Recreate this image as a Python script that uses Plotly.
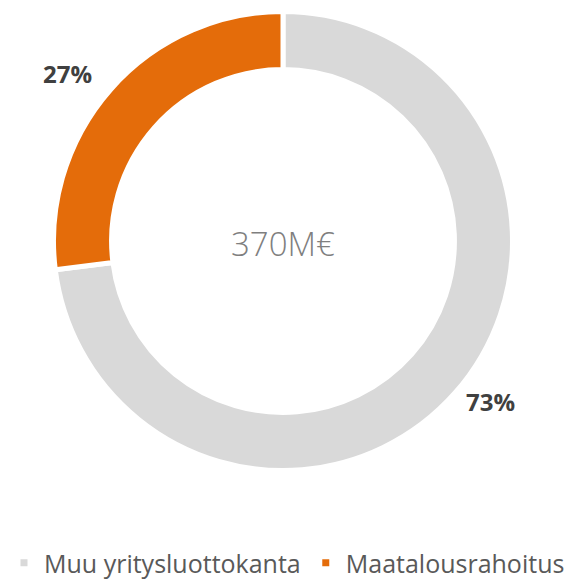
import plotly.graph_objects as go

# data
labels = ['Muu yritysluottokanta', 'Maatalousrahoitus']
shares = [73, 27]
colors = ['#D9D9D9', '#E46C0A']
total_label = '370M€'

# the page body adds an 8px margin, so work in shifted pixel coordinates
OFF = 8
W, H = 572 - OFF, 581 - OFF
cx, cy = 283 - OFF, 241 - OFF
R = 229.5          # outer radius incl. half of the white slice border
HOLE = 0.747


def px(x):
    return (x - OFF) / W


def py(y):
    return 1 - (y - OFF) / H


fig = go.Figure()
fig.add_trace(go.Pie(
    labels=labels,
    values=shares,
    sort=False,
    direction='clockwise',
    rotation=0,
    hole=HOLE,
    marker=dict(colors=colors, line=dict(color='white', width=5)),
    textinfo='none',
    hoverinfo='label+percent',
    domain=dict(x=[(cx - R) / W, (cx + R) / W],
                y=[1 - (cy + R) / H, 1 - (cy - R) / H]),
))

# percentage labels outside the ring
label_pos = [(490, 401), (67, 73)]
for val, (lx, ly) in zip(shares, label_pos):
    fig.add_annotation(
        x=px(lx), y=py(ly), xref='paper', yref='paper',
        xanchor='center', yanchor='middle',
        text=f'<b>{val}%</b>', showarrow=False,
        font=dict(family='Open Sans', size=24, color='#404040'),
    )

fig.add_annotation(
    x=px(283), y=py(243), xref='paper', yref='paper',
    xanchor='center', yanchor='middle',
    text=total_label, showarrow=False,
    font=dict(family='Open Sans', size=33, color='#7F7F7F', weight=300),
)

fig.update_layout(
    width=W, height=H,
    margin=dict(l=0, r=0, t=0, b=0, autoexpand=False),
    paper_bgcolor='white',
    showlegend=True,
    legend=dict(
        orientation='h', x=px(287), xanchor='center', y=py(563), yanchor='middle',
        font=dict(family='Open Sans', size=25, color='#595959'),
        itemwidth=30, traceorder='normal',
    ),
)

fig.write_html('out.html')
